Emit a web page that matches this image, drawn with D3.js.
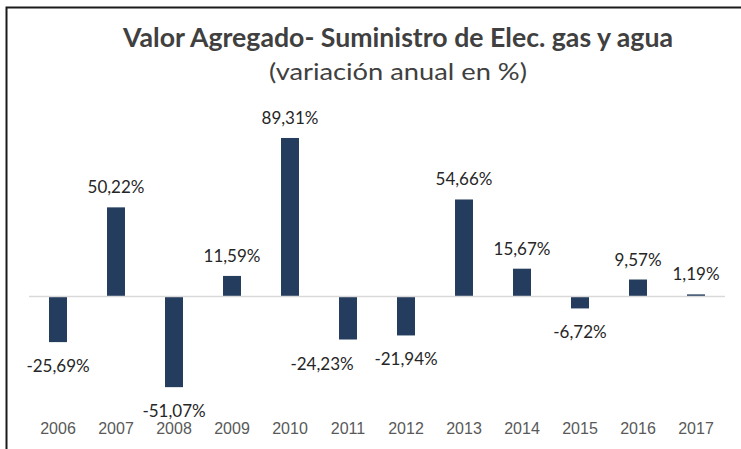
<!DOCTYPE html>
<html>
<head>
<meta charset="utf-8">
<script src="https://cdn.jsdelivr.net/npm/d3@7"></script>
<style>
    body { margin: 0; background: #fff; }
    svg { display: block; font-family: Lato, "Open Sans", sans-serif; }
    .barLabel { fill: #262626; font-size: 17px; }
    .yearLabel { fill: #595959; font-size: 16px; }
</style>
</head>
<body>
<svg id="chart" width="741" height="449"></svg>
<script>
// chart data
const years = ["2006", "2007", "2008", "2009", "2010", "2011", "2012", "2013", "2014", "2015", "2016", "2017"];
const growth = [-25.69, 50.22, -51.07, 11.59, 89.31, -24.23, -21.94, 54.66, 15.67, -6.72, 9.57, 1.19];
const title = "Valor Agregado- Suministro de Elec. gas y agua";
const subtitle = "(variación anual en %)";

let svg = d3.select("#chart");

// frame (top + left edge only, like the cropped screenshot)
svg.append("path")
    .attr("d", "M 6.5 449 L 6.5 7.5 L 741 7.5")
    .attr("fill", "none")
    .attr("stroke", "#1a1a1a")
    .attr("stroke-width", 2);

// title widths stretched to the original Calibri text
svg.append("text")
    .attr("x", 398)
    .attr("y", 47)
    .attr("text-anchor", "middle")
    .attr("fill", "#404040")
    .attr("font-weight", "bold")
    .attr("font-size", 26)
    .attr("textLength", 550)
    .attr("lengthAdjust", "spacingAndGlyphs")
    .text(title);

svg.append("text")
    .attr("x", 398)
    .attr("y", 80)
    .attr("text-anchor", "middle")
    .attr("fill", "#404040")
    .attr("font-size", 24)
    .attr("textLength", 258)
    .attr("lengthAdjust", "spacingAndGlyphs")
    .text(subtitle);

let x = d3.scaleBand()
    .domain(years)
    .range([29, 725])
    .paddingInner(0.69)
    .paddingOuter(0.345);

let y = d3.scaleLinear()
    .domain([-60, 100])
    .range([403, 119]);

let rows = years.map((yr, i) => ({ year: yr, value: growth[i] }));

// bars
svg.append("g").selectAll("rect")
    .data(rows)
    .enter().append("rect")
    .attr("x", d => x(d.year))
    .attr("width", x.bandwidth())
    .attr("y", d => y(Math.max(0, d.value)))
    .attr("height", d => Math.abs(y(d.value) - y(0)))
    .attr("fill", "#243d5e");

// zero line
svg.append("line")
    .attr("x1", 29).attr("x2", 725)
    .attr("y1", y(0)).attr("y2", y(0))
    .attr("stroke", "#d9d9d9")
    .attr("stroke-width", 1.5);

// some labels were dragged by hand in the original
let nudge = { "2011": -26 };
let fmt = v => d3.format(".2f")(v).replace("\u2212", "-").replace(".", ",") + "%";

svg.append("g").selectAll("text")
    .data(rows)
    .enter().append("text")
    .attr("class", "barLabel")
    .attr("text-anchor", "middle")
    .attr("x", d => x(d.year) + x.bandwidth() / 2 + (nudge[d.year] || 0))
    .attr("y", d => d.value >= 0 ? y(d.value) - 14 : y(d.value) + 30)
    .text(d => fmt(d.value));

// category axis, no line or ticks
let axis = svg.append("g")
    .attr("transform", "translate(0,434)")
    .call(d3.axisBottom(x).tickSize(0).tickPadding(0));
axis.select(".domain").remove();
axis.selectAll("text")
    .attr("class", "yearLabel")
    .attr("dy", 0)
    .attr("font-family", null)
    .attr("font-size", null)
    .attr("fill", null);
</script>
</body>
</html>
